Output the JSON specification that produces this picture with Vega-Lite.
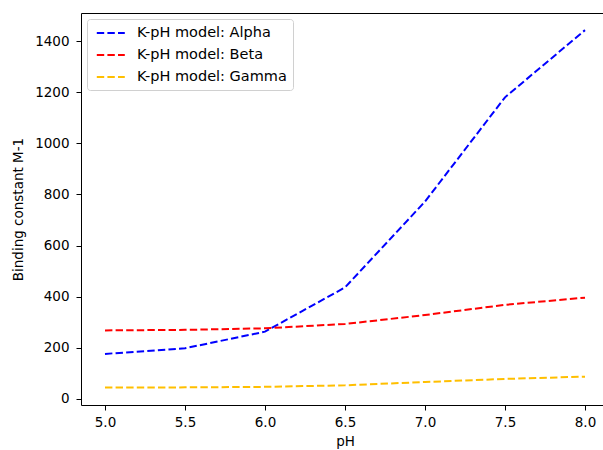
{
  "$schema": "https://vega.github.io/schema/vega-lite/v6.json",
  "autosize": "none",
  "width": 528,
  "height": 392,
  "padding": {"left": 81, "top": 13, "right": 0, "bottom": 45},
  "background": "white",
  "config": {
    "font": "DejaVu Sans",
    "view": {"stroke": "black", "strokeWidth": 1},
    "axis": {
      "grid": false,
      "domain": false,
      "tickColor": "black",
      "tickSize": 5,
      "tickWidth": 1,
      "labelColor": "black",
      "labelFontSize": 13.5,
      "labelPadding": 5,
      "titleColor": "black",
      "titleFontSize": 13.5,
      "titleFontWeight": "normal"
    }
  },
  "data": {
    "values": [
      {"pH": 5.0, "K": 176, "model": "K-pH model: Alpha"},
      {"pH": 5.5, "K": 198, "model": "K-pH model: Alpha"},
      {"pH": 6.0, "K": 263, "model": "K-pH model: Alpha"},
      {"pH": 6.5, "K": 436, "model": "K-pH model: Alpha"},
      {"pH": 7.0, "K": 772, "model": "K-pH model: Alpha"},
      {"pH": 7.5, "K": 1180, "model": "K-pH model: Alpha"},
      {"pH": 8.0, "K": 1443, "model": "K-pH model: Alpha"},
      {"pH": 5.0, "K": 268, "model": "K-pH model: Beta"},
      {"pH": 5.5, "K": 270, "model": "K-pH model: Beta"},
      {"pH": 6.0, "K": 276, "model": "K-pH model: Beta"},
      {"pH": 6.5, "K": 293, "model": "K-pH model: Beta"},
      {"pH": 7.0, "K": 328, "model": "K-pH model: Beta"},
      {"pH": 7.5, "K": 368, "model": "K-pH model: Beta"},
      {"pH": 8.0, "K": 396, "model": "K-pH model: Beta"},
      {"pH": 5.0, "K": 44, "model": "K-pH model: Gamma"},
      {"pH": 5.5, "K": 45, "model": "K-pH model: Gamma"},
      {"pH": 6.0, "K": 47, "model": "K-pH model: Gamma"},
      {"pH": 6.5, "K": 53, "model": "K-pH model: Gamma"},
      {"pH": 7.0, "K": 66, "model": "K-pH model: Gamma"},
      {"pH": 7.5, "K": 78, "model": "K-pH model: Gamma"},
      {"pH": 8.0, "K": 87, "model": "K-pH model: Gamma"}
    ]
  },
  "mark": {"type": "line", "strokeWidth": 2, "strokeDash": [7.4, 3.2]},
  "encoding": {
    "x": {
      "field": "pH",
      "type": "quantitative",
      "scale": {"domain": [4.85, 8.15], "nice": false, "zero": false},
      "axis": {"values": [5.0, 5.5, 6.0, 6.5, 7.0, 7.5, 8.0], "format": ".1f", "title": "pH", "titlePadding": 6}
    },
    "y": {
      "field": "K",
      "type": "quantitative",
      "scale": {"domain": [-24, 1510], "nice": false, "zero": false},
      "axis": {"values": [0, 200, 400, 600, 800, 1000, 1200, 1400], "format": "d", "title": "Binding constant M-1", "titlePadding": 9, "labelPadding": 7}
    },
    "color": {
      "field": "model",
      "type": "nominal",
      "scale": {
        "domain": ["K-pH model: Alpha", "K-pH model: Beta", "K-pH model: Gamma"],
        "range": ["#0000ff", "#ff0000", "#ffbf00"]
      },
      "legend": {
        "title": null,
        "orient": "top-left",
        "offset": 6,
        "symbolType": "M-0.6,0H3.4",
        "symbolSize": 196,
        "symbolStrokeWidth": 2,
        "symbolDash": [7.4, 3.2],
        "labelFontSize": 14.5,
        "labelColor": "black",
        "labelOffset": 28,
        "rowPadding": 7,
        "padding": 6,
        "fillColor": "white",
        "strokeColor": "#d0d0d0",
        "cornerRadius": 3
      }
    }
  }
}
